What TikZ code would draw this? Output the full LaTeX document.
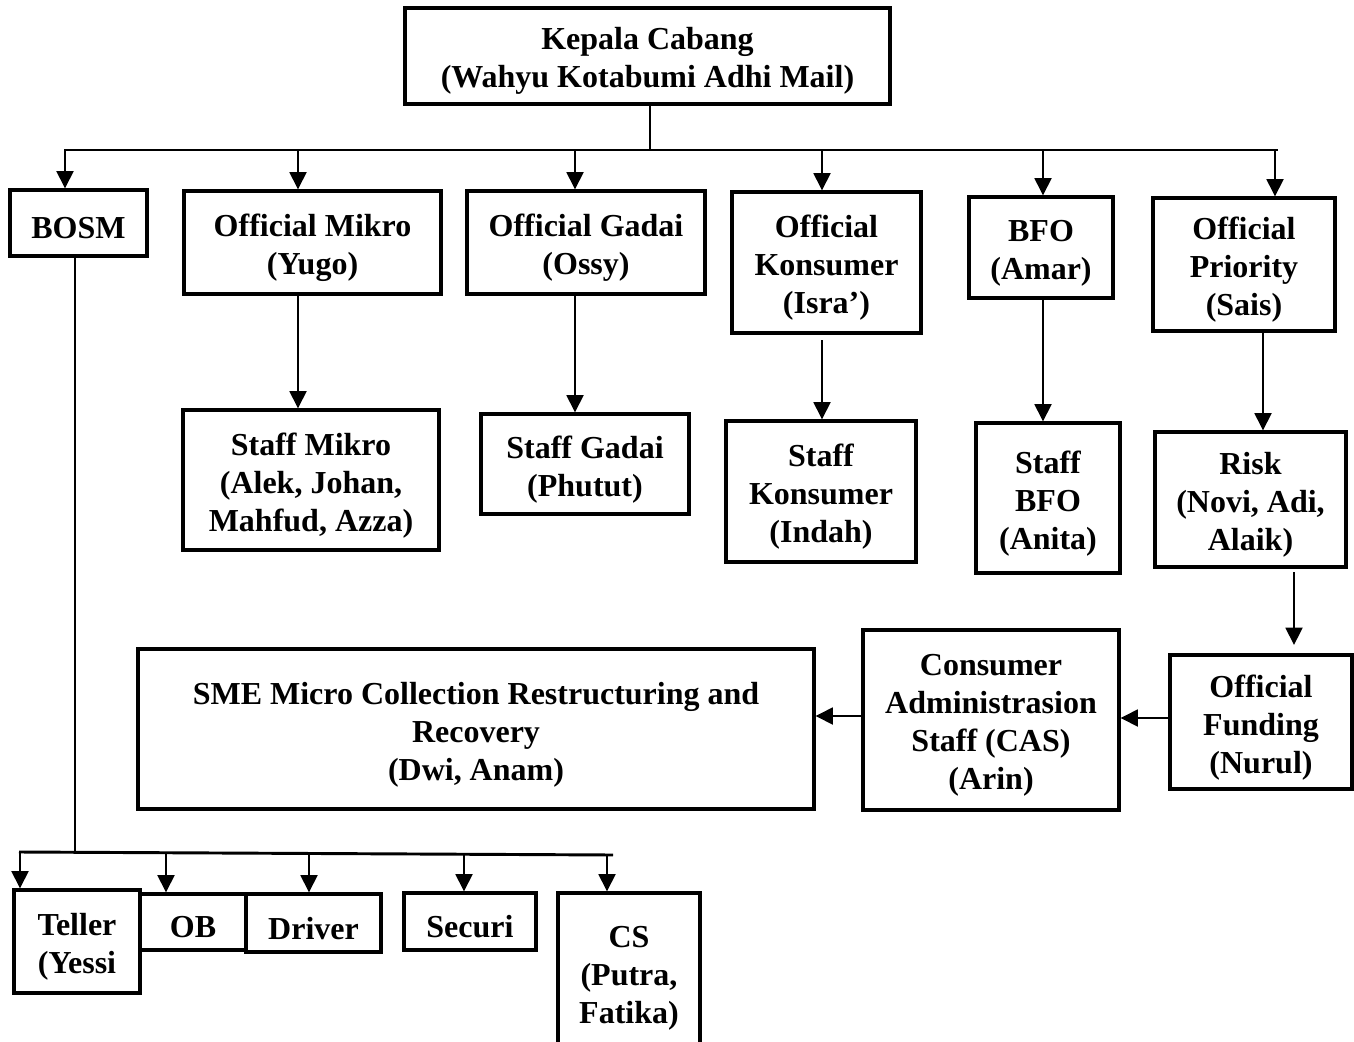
\documentclass[tikz,border=0pt]{standalone}
\usepackage{fontspec}
\setmainfont{Liberation Serif}
\usetikzlibrary{arrows.meta,fit}
\begin{document}
\begin{tikzpicture}[x=0.75pt,y=-0.75pt,
  box/.style={draw,line width=2.3pt,inner sep=0pt},
  txt/.style={align=center,inner sep=0pt,yshift=-4pt,
    font=\fontsize{24}{28.5}\selectfont\bfseries},
  ln/.style={line width=2.2pt},
  arr/.style={line width=2.2pt,-{Triangle[width=12.5pt,length=13pt]}}]
\useasboundingbox (0,0) rectangle (1354,1042);
\fill[white] (0,0) rectangle (1354,1042);
% boxes
\node[box,fit={(405,8) (890,104)},label={[txt]center:{Kepala Cabang\\(Wahyu Kotabumi Adhi Mail)}}] (kep) {};
\node[box,fit={(10,190) (147,256)},label={[txt]center:{BOSM}}] (bosm) {};
\node[box,fit={(184,191) (441,294)},label={[txt]center:{Official Mikro\\(Yugo)}}] (omik) {};
\node[box,fit={(467,191) (705,294)},label={[txt]center:{Official Gadai\\(Ossy)}}] (ogad) {};
\node[box,fit={(732,192) (921,333)},label={[txt]center:{Official\\Konsumer\\(Isra’)}}] (okon) {};
\node[box,fit={(969,197) (1113,298)},label={[txt]center:{BFO\\(Amar)}}] (bfo) {};
\node[box,fit={(1153,198) (1335,331)},label={[txt]center:{Official\\Priority\\(Sais)}}] (opri) {};
\node[box,fit={(183,410) (439,550)},label={[txt]center:{Staff Mikro\\(Alek, Johan,\\Mahfud, Azza)}}] (smik) {};
\node[box,fit={(481,414) (689,514)},label={[txt]center:{Staff Gadai\\(Phutut)}}] (sgad) {};
\node[box,fit={(726,421) (916,562)},label={[txt]center:{Staff\\Konsumer\\(Indah)}}] (skon) {};
\node[box,fit={(976,423) (1120,573)},label={[txt]center:{Staff\\BFO\\(Anita)}}] (sbfo) {};
\node[box,fit={(1155,432) (1346,567)},label={[txt]center:{Risk\\(Novi, Adi,\\Alaik)}}] (risk) {};
\node[box,fit={(1170,655) (1352,789)},label={[txt]center:{Official\\Funding\\(Nurul)}}] (ofun) {};
\node[box,fit={(863,630) (1119,810)},label={[txt]center:{Consumer\\Administrasion\\Staff (CAS)\\(Arin)}}] (cas) {};
\node[box,fit={(138,649) (814,809)},label={[txt]center:{SME Micro Collection Restructuring and\\Recovery\\(Dwi, Anam)}}] (sme) {};
\node[box,fit={(140,894) (246,950)},label={[txt]center:{OB}}] (ob) {};
\node[box,fit={(14,890) (140,993)},label={[txt]center:{Teller\\(Yessi}}] (tel) {};
\node[box,fit={(246,894) (381,952)},label={[txt]center:{Driver}}] (drv) {};
\node[box,fit={(404,893) (536,950)},label={[txt]center:{Securi}}] (sec) {};
\node[box,fit={(558,893) (700,1053)},label={[txt]center:{CS\\(Putra,\\Fatika)}}] (cs) {};
% top tree
\coordinate (hub) at (650,150);
\coordinate (tl) at (64,150);
\coordinate (tr) at (1278,150);
\draw[ln] (kep.south -| hub) -- (hub);
\draw[ln] (tl) -- (tr);
\coordinate (a1) at (65,150);
\coordinate (a2) at (298,150);
\coordinate (a3) at (575,150);
\coordinate (a4) at (822,150);
\coordinate (a5) at (1043,150);
\coordinate (a6) at (1275,150);
\draw[arr] (a1) -- (a1 |- bosm.north);
\draw[arr] (a2) -- (a2 |- omik.north);
\draw[arr] (a3) -- (a3 |- ogad.north);
\draw[arr] (a4) -- (a4 |- okon.north);
\draw[arr] (a5) -- (a5 |- bfo.north);
\draw[arr] (a6) -- (a6 |- opri.north);
% second level
\draw[arr] (a2 |- omik.south) -- (a2 |- smik.north);
\draw[arr] (a3 |- ogad.south) -- (a3 |- sgad.north);
\coordinate (k1) at (822,340);
\draw[arr] (k1) -- (k1 |- skon.north);
\draw[arr] (a5 |- bfo.south) -- (a5 |- sbfo.north);
\coordinate (p1) at (1263,331);
\draw[arr] (p1 |- opri.south) -- (p1 |- risk.north);
\coordinate (r1) at (1294,572);
\coordinate (r2) at (1294,645);
\draw[arr] (r1) -- (r2);
\coordinate (f1) at (1168,718);
\draw[arr] (f1) -- (f1 -| cas.east);
\coordinate (c1) at (863,716);
\draw[arr] (c1) -- (c1 -| sme.east);
% BOSM tree
\coordinate (b0) at (75,853);
\coordinate (bl) at (19,852);
\coordinate (br) at (613,855);
\draw[ln] (b0 |- bosm.south) -- (b0);
\draw[ln] (bl) -- (br);
\coordinate (t1) at (20,852);
\coordinate (t2) at (166,853);
\coordinate (t3) at (309,853);
\coordinate (t4) at (464,854);
\coordinate (t5) at (607,855);
\draw[arr] (t1) -- (t1 |- tel.north);
\draw[arr] (t2) -- (t2 |- ob.north);
\draw[arr] (t3) -- (t3 |- drv.north);
\draw[arr] (t4) -- (t4 |- sec.north);
\draw[arr] (t5) -- (t5 |- cs.north);
\end{tikzpicture}
\end{document}
